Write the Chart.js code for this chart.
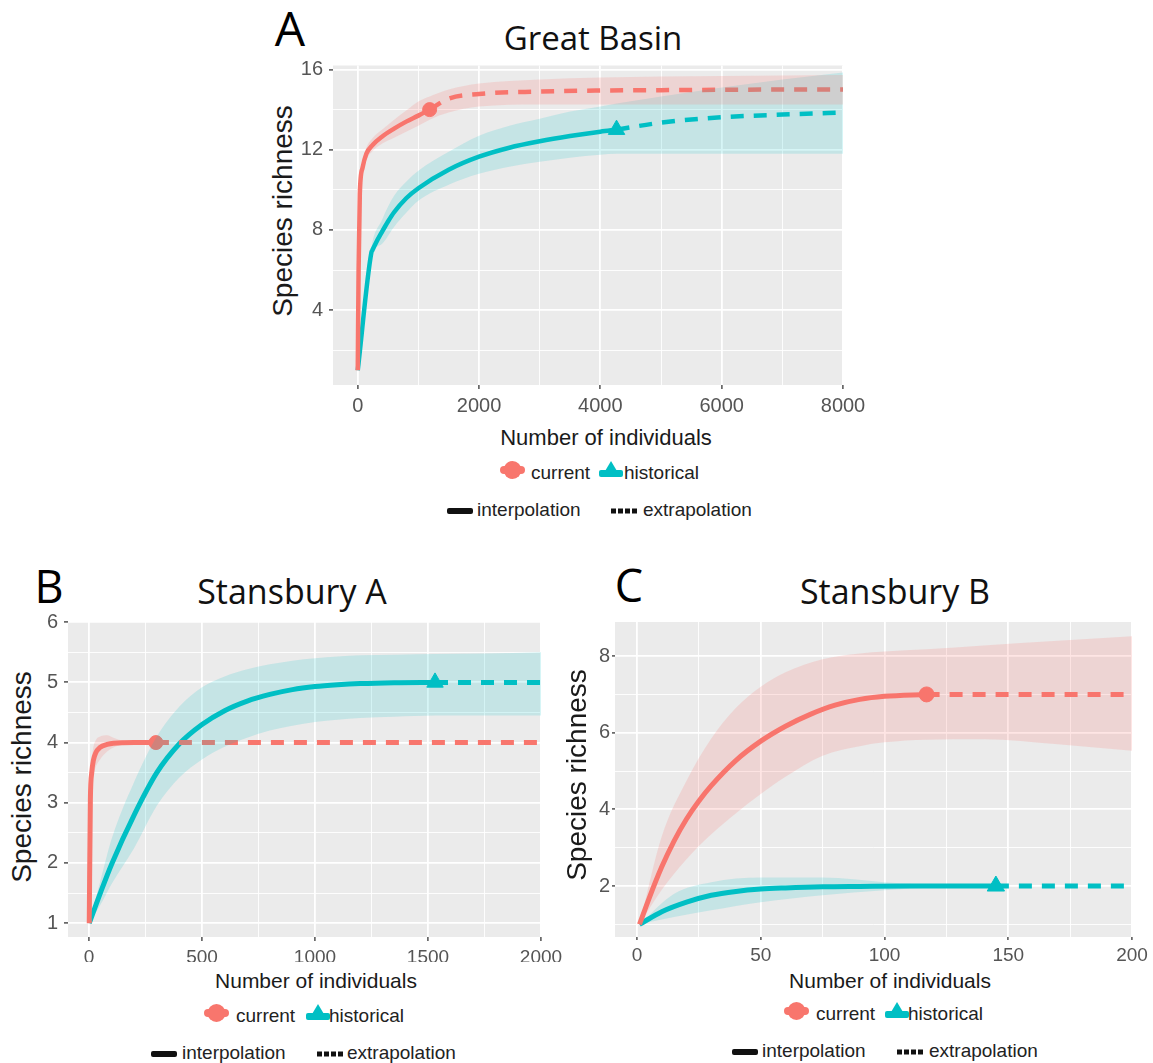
<!DOCTYPE html>
<html lang="en">
<head>
<meta charset="UTF-8">
<title>Species richness rarefaction</title>
<script src="https://cdn.jsdelivr.net/npm/chart.js"></script>
<style>
  body { margin: 0; background: #fff; }
  #page { position: relative; width: 1153px; height: 1063px; overflow: hidden; font-family: "Liberation Sans", Arial, sans-serif; }
  canvas { position: absolute; }
  .t { position: absolute; white-space: nowrap; line-height: 1; transform: translate(-50%, -50%); }
  .letter { font-family: "Open Sans", sans-serif; color: #000; }
  .ptitle { font-family: "Open Sans", sans-serif; color: #111; }
  .xt { font-size: 22px; color: #1a1a1a; }
  .yt { font-size: 28px; color: #1a1a1a; transform: translate(-50%, -50%) rotate(-90deg); }
  .lg { position: absolute; white-space: nowrap; line-height: 1; transform: translateY(-50%); font-size: 19px; color: #222; }
  .gl { position: absolute; transform: translateY(-50%); display: block; }
</style>
</head>
<body>
<div id="page">
  <!-- Panel A -->
  <div class="t letter" style="left:290px; top:28px; font-size:48px;">A</div>
  <div class="t ptitle" style="left:593px; top:37px; font-size:33px;">Great Basin</div>
  <div class="t yt" style="left:283px; top:211px;">Species richness</div>
  <div class="t xt" style="left:606px; top:438px;">Number of individuals</div>
  <canvas id="chartA" width="640" height="375" style="left:240px; top:55px;"></canvas>

  <!-- Panel B -->
  <div class="t letter" style="left:49px; top:585px; font-size:45px;">B</div>
  <div class="t ptitle" style="left:292px; top:591px; font-size:34px;">Stansbury A</div>
  <div class="t yt" style="left:22px; top:777px;">Species richness</div>
  <div class="t xt" style="left:316px; top:980px; font-size:21px;">Number of individuals</div>
  <canvas id="chartB" width="565" height="360" style="left:0px; top:610px;"></canvas>

  <!-- Panel C -->
  <div class="t letter" style="left:629px; top:584px; font-size:45px;">C</div>
  <div class="t ptitle" style="left:895px; top:591px; font-size:34px;">Stansbury B</div>
  <div class="t yt" style="left:577px; top:775px;">Species richness</div>
  <div class="t xt" style="left:890px; top:980px; font-size:21px;">Number of individuals</div>
  <canvas id="chartC" width="583" height="360" style="left:570px; top:610px;"></canvas>

  <div id="legends"></div>
</div>

<script>
  // ---- Panel A: Great Basin ----
  const aCurX = [1, 15, 35, 80, 143, 250, 400, 600, 800, 1000, 1186];
  const aCurY = [1, 6.0, 9.8, 11.1, 11.8, 12.25, 12.65, 13.05, 13.4, 13.7, 14.0];
  const aCurExtX = [1186, 1500, 2000, 3000, 4000, 5000, 6000, 7000, 8000];
  const aCurExtY = [14.0, 14.55, 14.78, 14.9, 14.95, 14.97, 14.99, 15.0, 15.0];
  const aCurBandX = [1, 15, 35, 80, 143, 250, 400, 600, 800, 1000, 1186, 1500, 2000, 3000, 4000, 5000, 6000, 7000, 8000];
  const aCurLo = [1, 5.8, 9.5, 10.8, 11.5, 11.95, 12.3, 12.6, 12.9, 13.2, 13.5, 13.85, 14.15, 14.25, 14.26, 14.26, 14.26, 14.26, 14.26];
  const aCurHi = [1, 6.2, 10.1, 11.4, 12.1, 12.6, 13.0, 13.5, 13.95, 14.4, 14.65, 15.0, 15.3, 15.5, 15.6, 15.65, 15.68, 15.7, 15.72];

  const aHisX = [1, 226, 240, 300, 400, 500, 600, 800, 1000, 1500, 2000, 2500, 3000, 3500, 4000, 4267];
  const aHisY = [1, 6.88, 6.97, 7.35, 7.9, 8.42, 8.88, 9.58, 10.08, 11.0, 11.65, 12.1, 12.42, 12.68, 12.9, 13.0];
  const aHisExtX = [4267, 5000, 6000, 7000, 8000];
  const aHisExtY = [13.0, 13.35, 13.62, 13.75, 13.85];
  const aHisBandX = [1, 226, 400, 600, 800, 1000, 1500, 2000, 2500, 3000, 3500, 4000, 4267, 5000, 6000, 7000, 8000];
  const aHisLo = [1, 6.7, 7.3, 8.15, 8.85, 9.45, 10.25, 10.8, 11.15, 11.4, 11.6, 11.75, 11.8, 11.8, 11.8, 11.8, 11.8];
  const aHisHi = [1, 7.1, 8.5, 9.7, 10.4, 10.95, 11.9, 12.7, 13.2, 13.55, 13.9, 14.15, 14.3, 14.65, 15.1, 15.5, 15.85];

  // ---- Panel B: Stansbury A ----
  const bCurX = [1, 6, 12, 19, 30, 49, 80, 108, 200, 296];
  const bCurY = [1, 3.05, 3.5, 3.7, 3.83, 3.92, 3.97, 3.99, 4.0, 4.0];
  const bCurExtX = [296, 2000];
  const bCurExtY = [4.0, 4.0];
  const bCurBandX = [1, 6, 12, 19, 30, 49, 80, 108, 150, 200, 296, 2000];
  const bCurLo = [1, 2.9, 3.3, 3.45, 3.6, 3.72, 3.85, 3.92, 3.97, 4.0, 4.0, 4.0];
  const bCurHi = [1, 3.2, 3.7, 3.92, 4.04, 4.1, 4.12, 4.08, 4.03, 4.0, 4.0, 4.0];

  const bHisX = [1, 50, 100, 200, 300, 400, 500, 600, 700, 800, 900, 1000, 1100, 1200, 1350, 1531];
  const bHisY = [1, 1.5, 1.98, 2.8, 3.5, 3.98, 4.3, 4.53, 4.69, 4.8, 4.88, 4.93, 4.96, 4.98, 4.995, 5.0];
  const bHisExtX = [1531, 2000];
  const bHisExtY = [5.0, 5.0];
  const bHisBandX = [1, 50, 100, 200, 300, 400, 500, 600, 700, 800, 900, 1000, 1100, 1200, 1350, 1531, 1750, 2000];
  const bHisLo = [1, 1.3, 1.65, 2.25, 2.95, 3.42, 3.72, 3.93, 4.08, 4.2, 4.28, 4.34, 4.38, 4.41, 4.43, 4.45, 4.45, 4.45];
  const bHisHi = [1, 1.7, 2.4, 3.35, 4.1, 4.6, 4.92, 5.1, 5.22, 5.3, 5.36, 5.4, 5.43, 5.45, 5.46, 5.47, 5.48, 5.5];

  // ---- Panel C: Stansbury B ----
  const cCurX = [1, 5, 10, 15, 20, 25, 30, 40, 50, 60, 70, 80, 90, 100, 117];
  const cCurY = [1, 1.7, 2.5, 3.18, 3.75, 4.22, 4.62, 5.28, 5.78, 6.17, 6.48, 6.72, 6.87, 6.95, 7.0];
  const cCurExtX = [117, 200];
  const cCurExtY = [7.0, 7.0];
  const cCurBandX = [1, 10, 20, 30, 40, 50, 60, 75, 90, 100, 117, 140, 170, 200];
  const cCurLo = [1, 1.9, 2.7, 3.35, 3.9, 4.4, 4.85, 5.4, 5.65, 5.75, 5.82, 5.83, 5.7, 5.53];
  const cCurHi = [1, 3.3, 4.75, 5.85, 6.65, 7.2, 7.58, 7.92, 8.07, 8.12, 8.18, 8.28, 8.4, 8.52];

  const cHisX = [1, 10, 20, 30, 40, 50, 60, 75, 90, 110, 130, 145];
  const cHisY = [1, 1.33, 1.58, 1.76, 1.86, 1.92, 1.95, 1.98, 1.99, 2.0, 2.0, 2.0];
  const cHisExtX = [145, 200];
  const cHisExtY = [2.0, 2.0];
  const cHisBandX = [1, 15, 30, 50, 75, 100, 122, 145, 200];
  const cHisLo = [1, 1.19, 1.37, 1.58, 1.76, 1.89, 1.97, 2.0, 2.0];
  const cHisHi = [1, 1.8, 2.1, 2.22, 2.22, 2.1, 2.02, 2.0, 2.0];

  // ---- tick values ----
  const aXMajor = [0, 2000, 4000, 6000, 8000], aXMinor = [1000, 3000, 5000, 7000];
  const aYMajor = [4, 8, 12, 16], aYMinor = [2, 6, 10, 14];
  const bXMajor = [0, 500, 1000, 1500, 2000], bXMinor = [250, 750, 1250, 1750];
  const bYMajor = [1, 2, 3, 4, 5, 6], bYMinor = [1.5, 2.5, 3.5, 4.5, 5.5];
  const cXMajor = [0, 50, 100, 150, 200], cXMinor = [25, 75, 125, 175];
  const cYMajor = [2, 4, 6, 8], cYMinor = [1, 3, 5, 7];

  const RED = '#F8766D', TEAL = '#00BFC4';
  const RED_BAND = 'rgba(248,118,109,0.19)', TEAL_BAND = 'rgba(0,191,196,0.16)';
  const NONE = 'rgba(0,0,0,0)';

  function pts(xs, ys) {
    return xs.map((x, i) => ({ x: x, y: ys[i] }));
  }

  function curve(xs, ys, color, width, dashed) {
    return {
      data: pts(xs, ys), borderColor: color, borderWidth: width,
      borderDash: dashed ? [13, 10] : [], borderCapStyle: 'butt',
      pointRadius: 0, fill: false, cubicInterpolationMode: 'monotone', order: 2
    };
  }

  // lower edge fills up to the upper edge (next dataset)
  function band(xs, lo, hi, color) {
    return [
      { data: pts(xs, lo), borderColor: NONE, borderWidth: 0, pointRadius: 0,
        fill: '+1', backgroundColor: color, cubicInterpolationMode: 'monotone', order: 0 },
      { data: pts(xs, hi), borderColor: NONE, borderWidth: 0, pointRadius: 0,
        fill: false, cubicInterpolationMode: 'monotone', order: 0 }
    ];
  }

  // observed sample: last point of the interpolated curve
  function marker(xs, ys, color, style, r) {
    const n = xs.length - 1;
    return {
      data: [{ x: xs[n], y: ys[n] }], showLine: false, pointStyle: style,
      pointRadius: r, pointBackgroundColor: color, pointBorderColor: color,
      pointBorderWidth: 1, order: 3
    };
  }

  function axis(range, major, minor, o) {
    const all = major.concat(minor).sort((a, b) => a - b);
    const isMajor = c => c.tick && major.indexOf(c.tick.value) !== -1;
    return {
      type: 'linear', min: range[0], max: range[1],
      afterBuildTicks: s => { s.ticks = all.map(v => ({ value: v })); },
      afterFit: s => {
        if (o.horizontal) { s.height = o.size; s.paddingLeft = 0; s.paddingRight = 0; }
        else { s.width = o.size; s.paddingTop = 0; s.paddingBottom = 0; }
      },
      ticks: {
        autoSkip: false, maxRotation: 0, padding: o.pad, color: '#555',
        font: { family: 'Liberation Sans', size: o.font },
        callback: v => major.indexOf(v) !== -1 ? String(v) : ''
      },
      grid: {
        color: '#FFFFFF',
        lineWidth: c => isMajor(c) ? 1.8 : 0.9,
        drawTicks: true, tickLength: o.tick, tickWidth: 1.4,
        tickColor: c => isMajor(c) ? '#444' : NONE
      },
      border: { display: false }
    };
  }

  const panelBg = {
    id: 'panelBg',
    beforeDraw(chart) {
      const { ctx, chartArea: a } = chart;
      ctx.save();
      ctx.fillStyle = '#EBEBEB';
      ctx.fillRect(a.left, a.top, a.right - a.left, a.bottom - a.top);
      ctx.restore();
    }
  };

  function panel(id, datasets, xAxis, yAxis, pad) {
    return new Chart(document.getElementById(id), {
      type: 'line',
      data: { datasets: datasets },
      options: {
        responsive: false, animation: false, devicePixelRatio: 1, events: [],
        layout: { padding: pad },
        plugins: { legend: { display: false }, tooltip: { enabled: false } },
        scales: { x: xAxis, y: yAxis }
      },
      plugins: [panelBg]
    });
  }

  // A
  panel('chartA', [
    ...band(aCurBandX, aCurLo, aCurHi, RED_BAND),
    ...band(aHisBandX, aHisLo, aHisHi, TEAL_BAND),
    curve(aCurX, aCurY, RED, 4.5, false),
    curve(aCurExtX, aCurExtY, RED, 4.5, true),
    curve(aHisX, aHisY, TEAL, 4.5, false),
    curve(aHisExtX, aHisExtY, TEAL, 4.5, true),
    marker(aCurX, aCurY, RED, 'circle', 7),
    marker(aHisX, aHisY, TEAL, 'triangle', 9.5)
  ],
  axis([-407, 8000], aXMajor, aXMinor, { horizontal: true, size: 30, pad: 5, tick: 4, font: 20 }),
  axis([0.265, 16.2], aYMajor, aYMinor, { horizontal: false, size: 93, pad: 6, tick: 4, font: 20 }),
  { left: 0, right: 37, top: 10, bottom: 15 });

  // B
  panel('chartB', [
    ...band(bCurBandX, bCurLo, bCurHi, RED_BAND),
    ...band(bHisBandX, bHisLo, bHisHi, TEAL_BAND),
    curve(bCurX, bCurY, RED, 5, false),
    curve(bCurExtX, bCurExtY, RED, 5, true),
    curve(bHisX, bHisY, TEAL, 5, false),
    curve(bHisExtX, bHisExtY, TEAL, 5, true),
    marker(bCurX, bCurY, RED, 'circle', 7),
    marker(bHisX, bHisY, TEAL, 'triangle', 9.5)
  ],
  axis([-93, 2000], bXMajor, bXMinor, { horizontal: true, size: 25, pad: 5, tick: 4, font: 19 }),
  axis([0.77, 6.02], bYMajor, bYMinor, { horizontal: false, size: 68, pad: 6, tick: 4, font: 20 }),
  { left: 0, right: 24, top: 11, bottom: 8 });

  // C
  panel('chartC', [
    ...band(cCurBandX, cCurLo, cCurHi, RED_BAND),
    ...band(cHisBandX, cHisLo, cHisHi, TEAL_BAND),
    curve(cCurX, cCurY, RED, 5, false),
    curve(cCurExtX, cCurExtY, RED, 5, true),
    curve(cHisX, cHisY, TEAL, 5, false),
    curve(cHisExtX, cHisExtY, TEAL, 5, true),
    marker(cCurX, cCurY, RED, 'circle', 7.5),
    marker(cHisX, cHisY, TEAL, 'triangle', 10)
  ],
  axis([-8.9, 200], cXMajor, cXMinor, { horizontal: true, size: 25, pad: 4, tick: 3, font: 19 }),
  axis([0.67, 8.89], cYMajor, cYMinor, { horizontal: false, size: 45, pad: 2, tick: 3, font: 20 }),
  { left: 0, right: 21, top: 12, bottom: 8 });

  // ---- legends ----
  const glyphCur = '<svg width="27" height="20"><rect x="1" y="6" width="25" height="8" rx="4" fill="' + RED + '"/><circle cx="13.5" cy="10" r="9" fill="' + RED + '"/></svg>';
  const glyphHis = '<svg width="24" height="20"><rect x="0" y="10" width="24" height="7" rx="2" fill="' + TEAL + '"/><polygon points="12,1 21.5,17 2.5,17" fill="' + TEAL + '"/></svg>';
  const glyphInt = '<svg width="26" height="6"><rect x="0" y="0" width="26" height="6" rx="2" fill="#111"/></svg>';
  const glyphExt = '<svg width="26" height="6"><rect x="0" y="0.5" width="5" height="5" fill="#111"/><rect x="7" y="0.5" width="5" height="5" fill="#111"/><rect x="14" y="0.5" width="5" height="5" fill="#111"/><rect x="21" y="0.5" width="5" height="5" fill="#111"/></svg>';

  const legendRows = [
    // [row1 y, curGlyph x, "current" x, hisGlyph x, "historical" x, row2 y, line x, "interpolation" x, dots x, "extrapolation" x]
    [472, 499, 531, 599, 624, 509, 447, 477, 611, 643],
    [1015, 203, 236, 306, 329, 1052, 151, 182, 317, 347],
    [1013, 783, 816, 885, 908, 1050, 732, 762, 897, 929]
  ];
  let html = '';
  legendRows.forEach(r => {
    html += '<span class="gl" style="left:' + r[1] + 'px; top:' + r[0] + 'px;">' + glyphCur + '</span>';
    html += '<span class="lg" style="left:' + r[2] + 'px; top:' + r[0] + 'px;">current</span>';
    html += '<span class="gl" style="left:' + r[3] + 'px; top:' + r[0] + 'px;">' + glyphHis + '</span>';
    html += '<span class="lg" style="left:' + r[4] + 'px; top:' + r[0] + 'px;">historical</span>';
    html += '<span class="gl" style="left:' + r[6] + 'px; top:' + r[5] + 'px;">' + glyphInt + '</span>';
    html += '<span class="lg" style="left:' + r[7] + 'px; top:' + r[5] + 'px;">interpolation</span>';
    html += '<span class="gl" style="left:' + r[8] + 'px; top:' + r[5] + 'px;">' + glyphExt + '</span>';
    html += '<span class="lg" style="left:' + r[9] + 'px; top:' + r[5] + 'px;">extrapolation</span>';
  });
  document.getElementById('legends').innerHTML = html;
</script>
</body>
</html>
